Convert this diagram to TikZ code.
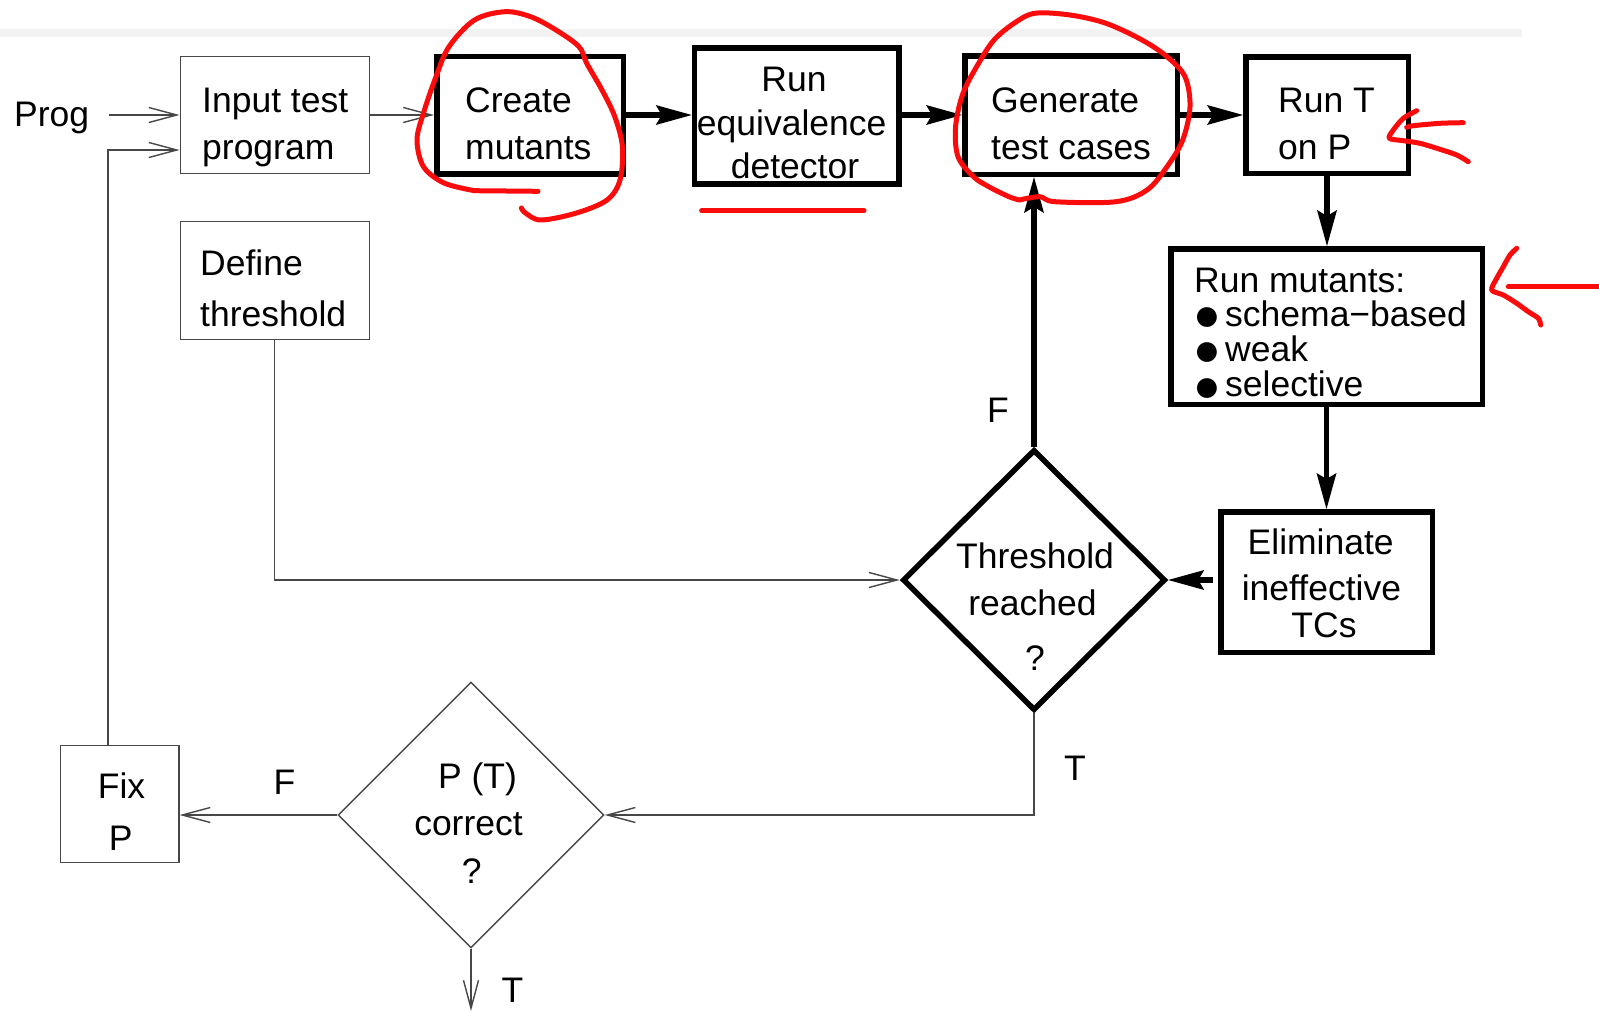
\documentclass[tikz,border=0pt]{standalone}
\usepackage{fontspec}
\setmainfont{Liberation Sans}
\usetikzlibrary{shapes.geometric,arrows.meta}
\definecolor{pen}{RGB}{250,12,12}
\definecolor{wire}{gray}{0.28}
\newcommand\lblfont{\fontsize{35.5}{42}\selectfont}
\newcommand\dotmark{\makebox[31.6pt][l]{\raisebox{-4.5pt}{\fontsize{46}{46}\selectfont ●}}}

\begin{document}
\begin{tikzpicture}[x=1pt,y=-1pt,
  thinbox/.style={draw=wire, line width=1.4pt, inner sep=0pt},
  thickbox/.style={draw=black, line width=5.5pt, inner sep=0pt},
  thinarr/.style={draw=wire, line width=1.4pt, -{Straight Barb[length=28pt,width=15pt]}},
  thickarr/.style={draw=black, line width=5.5pt, -{Stealth[length=36pt,width=20pt,inset=6pt,line width=0pt]}},
  lbl/.style={inner sep=0pt, anchor=base west, font=\lblfont},
  lblc/.style={inner sep=0pt, anchor=base, font=\lblfont},
  redpen/.style={draw=pen, line width=5pt, line cap=round, line join=round},
]
\useasboundingbox (0,0) rectangle (1599,1012);
\fill[white] (0,0) rectangle (1599,1012);
\fill[black!5] (0,29) rectangle (1522,37);

% ---------- boxes ----------
\node[thinbox, minimum width=189pt, minimum height=117.2pt] (input) at (274.75,115) {};
\node[thinbox, minimum width=189pt, minimum height=118pt] (define) at (274.75,280.35) {};
\node[thinbox, minimum width=118.2pt, minimum height=117pt] (fix) at (119.8,803.8) {};
\node[thickbox, minimum width=186.5pt, minimum height=117.5pt] (create) at (530,115) {};
\node[thickbox, minimum width=204.5pt, minimum height=136.2pt] (equiv) at (796.7,115.85) {};
\node[thickbox, minimum width=212.5pt, minimum height=118.5pt] (generate) at (1071,115) {};
\node[thickbox, minimum width=162.5pt, minimum height=116.5pt] (runT) at (1327,115) {};
\node[thickbox, minimum width=311.5pt, minimum height=155.5pt] (mutants) at (1326.5,326.5) {};
\node[thickbox, minimum width=211.5pt, minimum height=140.5pt] (elim) at (1326.5,582) {};
\node[thickbox, diamond, minimum width=263pt, minimum height=261pt] (thr) at (1034,580) {};
\node[thinbox, diamond, minimum width=266pt, minimum height=266pt] (pt) at (471,815) {};

% ---------- texts ----------
\node[lbl] (prog) at (14,126) {Prog};
\node[lbl] (input1) at (202,112.7) {Input test};
\node[lbl] (input2) at (202,159.5) {program};
\node[lbl] (create1) at (465,112.7) {Create};
\node[lbl] (create2) at (465,159.3) {mutants};
\node[lblc] (equiv1) at (794,91.7) {Run};
\node[lblc] (equiv2) at (791.7,135) {equivalence};
\node[lblc] (equiv3) at (795,178.3) {detector};
\node[lbl] (generate1) at (991,112.7) {Generate};
\node[lbl] (generate2) at (991,159.3) {test cases};
\node[lbl] (runT1) at (1278,112.7) {Run T};
\node[lbl] (runT2) at (1278,159.3) {on P};
\node[lbl] (define1) at (200,275) {Define};
\node[lbl] (define2) at (200,326.7) {threshold};
\node[lbl] (mut1) at (1194,292.7) {Run mutants:};
\node[lbl] (mut2) at (1193.4,326) {\dotmark schema−based};
\node[lbl] (mut3) at (1193.4,361.3) {\dotmark weak};
\node[lbl] (mut4) at (1193.4,396.7) {\dotmark selective};
\node[lblc] (elim1) at (1320.7,554.2) {Eliminate};
\node[lblc] (elim2) at (1321.4,600.3) {ineffective};
\node[lblc] (elim3) at (1324,637.8) {TCs};
\node[lblc] (thr1) at (1035,568) {Threshold};
\node[lblc] (thr2) at (1032.5,615.7) {reached};
\node[lblc] (thr3) at (1035,670) {?};
\node[lblc] (pt1) at (477.5,788.3) {P (T)};
\node[lblc] (pt2) at (468.5,835.3) {correct};
\node[lblc] (pt3) at (471.8,883) {?};
\node[lblc] (fix1) at (121.5,798.7) {Fix};
\node[lblc] (fix2) at (120.6,850.6) {P};
\node[lbl] (labF1) at (987,422.4) {F};
\node[lbl] (labT1) at (1064,780) {T};
\node[lbl] (labF2) at (273.5,794.5) {F};
\node[lbl] (labT2) at (501.5,1002.4) {T};

% ---------- connector ends ----------
\coordinate (progout) at ([xshift=20pt]prog.east);
\coordinate (fixout) at ([xshift=-11.8pt]fix.north);
\coordinate (inputin) at ([yshift=-35pt]input.west);
\coordinate (ptout) at (471,1011);

% ---------- thin connectors ----------
\draw[thinarr] (progout |- input.west) -- (input.west);
\draw[thinarr] (input.east) -- (input.east -| create.west);
\draw[thinarr] (fixout) |- (inputin);
\draw[thinarr] (define.south) |- (thr.west);
\draw[thinarr] (thr.south) |- (pt.east);
\draw[thinarr] (pt.west) -- (pt.west -| fix.east);
\draw[thinarr] (pt.south) -- (ptout);

% ---------- thick connectors ----------
\draw[thickarr] (create.east) -- (create.east -| equiv.west);
\draw[thickarr] (generate.west -| equiv.east) -- (generate.west);
\draw[thickarr] (generate.east) -- (generate.east -| runT.west);
\draw[thickarr] (runT.south) -- (runT.south |- mutants.north);
\draw[thickarr] (mutants.south) -- (mutants.south |- elim.north);
\draw[thickarr, shorten <=5pt] (thr.east -| elim.west) -- (thr.east);
\draw[thickarr] (thr.north) -- (thr.north |- generate.south);

% ---------- red pen marks ----------
\draw[redpen] plot[smooth, tension=0.55] coordinates {
  (521.4,208) (525.5,213) (541,220) (576.5,213) (607,200) (620,180)
  (622.4,146.7) (614.8,116.7) (602,90) (586.7,63.3) (579,46.7) (556,30)
  (530.6,16.7) (505,11.7) (474.5,20) (449,46.7) (436,76.7) (423.5,113)
  (417,140) (423.5,166.7) (444,183) (474.5,190.7)};
\draw[redpen] (474.5,190.7) -- (538,191.3);
\draw[redpen] (701.6,210.7) -- (864,210.7);
\draw[redpen] plot[smooth, tension=0.55] coordinates {
  (1019.4,200) (1039.8,196.7) (1055,201.7) (1116,201.7) (1147,190)
  (1167,166.7) (1182.7,140) (1190,106.7) (1185,76.7) (1167,56.7)
  (1142,40) (1106,23.3) (1070,15) (1034.7,13.3) (1014,23.3) (994,40)
  (978.6,63.3) (963,93.3) (955.6,126.7) (958,156.7) (973.5,176.7)
  (988.8,186.7) (1009,196.7) (1019.4,200)};
\draw[redpen] plot[smooth, tension=0.5] coordinates {
  (1416.7,110.7) (1403.3,118.3) (1393.3,130) (1389.3,138.3)
  (1403.3,140.7) (1420,143.3) (1440,149.3) (1456.7,155) (1468.3,161.7)};
\draw[redpen] plot[smooth, tension=0.5] coordinates {
  (1463.3,122.7) (1440,123.3) (1413.3,125.7) (1406.7,127.3)};
\draw[redpen] (1508.3,286.7) -- (1599,286.7);
\draw[redpen] plot[smooth, tension=0.5] coordinates {
  (1516.7,248.3) (1510,255) (1503.3,266.7) (1496.7,278.3) (1491.7,290)
  (1503.3,295) (1516.7,303.3) (1528.3,311.7) (1538.3,318.3) (1540.7,325)};
\end{tikzpicture}
\end{document}
